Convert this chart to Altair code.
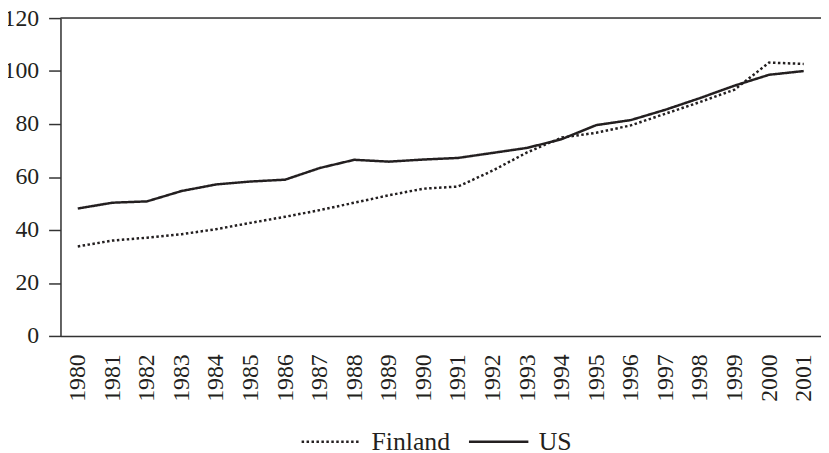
import altair as alt
import pandas as pd

years = [str(y) for y in range(1980, 2002)]
finland = [33.8, 36.0, 37.1, 38.4, 40.3, 42.7, 45.0, 47.5, 50.3, 53.1, 55.6,
           56.4, 62.4, 69.3, 74.9, 76.7, 79.5, 83.9, 88.3, 93.0, 103.2, 102.7]
us = [48.1, 50.3, 50.8, 54.7, 57.2, 58.3, 59.0, 63.4, 66.5, 65.8, 66.6,
      67.2, 69.1, 71.0, 74.3, 79.6, 81.5, 85.4, 89.8, 94.5, 98.6, 100.0]
series = ["Finland", "US"]
y_ticks = [0, 20, 40, 60, 80, 100, 120]

rows = []
for i, yr in enumerate(years):
    rows.append({"year": yr, "series": "Finland", "value": finland[i]})
    rows.append({"year": yr, "series": "US", "value": us[i]})
df = pd.DataFrame(rows)

INK = "#231f20"
FONT = "Liberation Serif"

lines = alt.Chart(df).mark_line(color=INK, strokeWidth=2.5).encode(
    x=alt.X("year:O", scale=alt.Scale(type="point", padding=0.5),
            axis=alt.Axis(title=None, labelAngle=270, ticks=False,
                          labelPadding=18, labelFontSize=24, labelFont=FONT,
                          labelColor=INK, domainColor="#333333", domainWidth=1.5)),
    y=alt.Y("value:Q", scale=alt.Scale(domain=[0, 120], nice=False),
            axis=alt.Axis(title=None, values=y_ticks, tickSize=12,
                          labelPadding=10, labelFontSize=24, labelFont=FONT,
                          labelColor=INK, tickColor="#333333", tickWidth=1.5,
                          domainColor="#333333", domainWidth=1.5, grid=False)),
    strokeDash=alt.StrokeDash("series:N",
                              scale=alt.Scale(domain=series, range=[[2.5, 2.5], [1, 0]]),
                              legend=alt.Legend(title=None, orient="none",
                                                legendX=242, legendY=396,
                                                direction="horizontal",
                                                symbolType="stroke", symbolSize=3600,
                                                symbolStrokeWidth=2.5,
                                                symbolStrokeColor=INK,
                                                labelFontSize=26, labelFont=FONT,
                                                labelColor=INK, labelOffset=9,
                                                columnPadding=13, padding=0)),
)

top_rule = alt.Chart(pd.DataFrame({"v": [120]})).mark_rule(
    color="#333333", strokeWidth=1.5
).encode(y="v:Q")

chart = alt.layer(lines, top_rule).properties(
    width=768, height=321,
    autosize=alt.AutoSizeParams(type="none"),
    padding={"left": 53, "top": 8, "right": 0, "bottom": 114},
).configure_view(stroke=None).configure(background="white")

chart.save("out.html", embed_options={"renderer": "svg", "actions": False})
